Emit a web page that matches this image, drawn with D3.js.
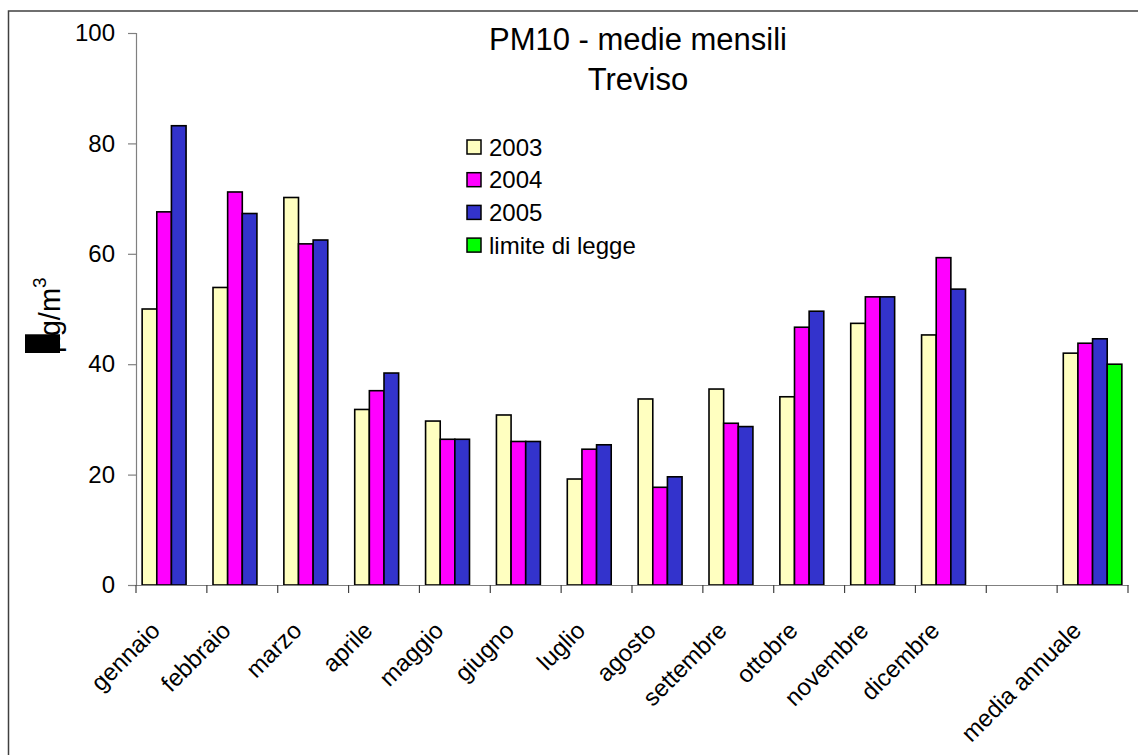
<!DOCTYPE html>
<html>
<head>
<meta charset="utf-8">
<script src="https://cdn.jsdelivr.net/npm/d3@7"></script>
<style>
  html, body { margin: 0; padding: 0; background: #fff; }
  svg { display: block; font-family: "Liberation Sans", Arial, sans-serif; }
</style>
</head>
<body>
<svg id="chart" width="1138" height="755"></svg>
<script>
// ---- data ----
const categories = ["gennaio","febbraio","marzo","aprile","maggio","giugno","luglio","agosto","settembre","ottobre","novembre","dicembre"," ","media annuale"];
const seriesNames = ["2003","2004","2005","limite di legge"];
const values2003 = [50.0, 53.9, 70.2, 31.8, 29.7, 30.8, 19.2, 33.7, 35.5, 34.1, 47.4, 45.3, null, 42.0];
const values2004 = [67.6, 71.2, 61.8, 35.2, 26.4, 26.0, 24.6, 17.7, 29.3, 46.7, 52.2, 59.3, null, 43.8];
const values2005 = [83.2, 67.3, 62.5, 38.4, 26.4, 26.0, 25.4, 19.6, 28.7, 49.6, 52.2, 53.6, null, 44.6];
const valuesLimite = [null, null, null, null, null, null, null, null, null, null, null, null, null, 40.0];
const yTicks = [0, 20, 40, 60, 80, 100];
const titleLines = ["PM10 - medie mensili", "Treviso"];
const colors = ["#FFFFC0", "#FF00FF", "#3333CC", "#00FF00"];

const allSeries = [values2003, values2004, values2005, valuesLimite];

(function draw() {
const svg = d3.select("#chart");

// outer frame
svg.append("rect").attr("x", 8.5).attr("y", 11).attr("width", 1300).attr("height", 800)
  .attr("fill", "none").attr("stroke", "#404040").attr("stroke-width", 1.5);

const pLeft = 136, pRight = 1128, pTop = 33, pBottom = 585;

const x0 = d3.scaleBand().domain(categories).range([pLeft, pRight]).padding(0);
const x1 = d3.scaleBand().domain(seriesNames).range([0, x0.bandwidth()]).paddingInner(0).paddingOuter(0.42);
const y = d3.scaleLinear().domain([0, 100]).range([pBottom, pTop]);

// bars
const barData = [];
categories.forEach((c, i) => {
  seriesNames.forEach((s, j) => {
    const v = allSeries[j][i];
    if (v !== null) barData.push({cat: c, series: s, value: v, color: colors[j]});
  });
});
svg.append("g").selectAll("rect").data(barData).join("rect")
  .attr("x", d => x0(d.cat) + x1(d.series))
  .attr("y", d => y(d.value))
  .attr("width", x1.bandwidth())
  .attr("height", d => y(0) - y(d.value))
  .attr("fill", d => d.color)
  .attr("stroke", "#000").attr("stroke-width", 1.6);

// y axis
const yAxis = svg.append("g").attr("transform", `translate(${pLeft},0)`)
  .call(d3.axisLeft(y).tickValues(yTicks).tickSize(8).tickPadding(13).tickFormat(d3.format("d")));
yAxis.select(".domain").attr("stroke", "#808080").attr("stroke-width", 1.2);
yAxis.selectAll(".tick line").attr("stroke", "#808080").attr("stroke-width", 1.2);
yAxis.selectAll(".tick text").attr("font-size", 24).attr("fill", "#000")
  .attr("font-family", "Liberation Sans, Arial, sans-serif");

// x axis
const xAxis = svg.append("g").attr("transform", `translate(0,${pBottom})`)
  .call(d3.axisBottom(x0).tickSize(0).tickFormat(""));
xAxis.select(".domain").attr("stroke", "#808080").attr("stroke-width", 1.2);
xAxis.selectAll(".tick").remove();
// tick marks at category boundaries
const boundaries = categories.map(c => x0(c)).concat([x0(categories[categories.length-1]) + x0.bandwidth()]);
svg.append("g").selectAll("line").data(boundaries).join("line")
  .attr("x1", d => d).attr("x2", d => d)
  .attr("y1", pBottom).attr("y2", pBottom + 8)
  .attr("stroke", "#404040").attr("stroke-width", 1.2);
// category labels
svg.append("g").selectAll("text").data(categories).join("text")
  .attr("transform", d => `translate(${x0(d) + x0.bandwidth()/2 - 10},${pBottom + 47}) rotate(-45)`)
  .attr("text-anchor", "end")
  .attr("font-size", 24)
  .attr("fill", "#000")
  .text(d => d.trim());

// title
svg.append("g").selectAll("text").data(titleLines).join("text")
  .attr("x", 638).attr("y", (d, i) => 50 + i * 40)
  .attr("text-anchor", "middle").attr("font-size", 31).attr("fill", "#000")
  .text(d => d);

// legend
const legend = svg.append("g");
seriesNames.forEach((s, i) => {
  const cy = 147 + i * 32.7;
  legend.append("rect").attr("x", 467).attr("y", cy - 7).attr("width", 14).attr("height", 14)
    .attr("fill", colors[i]).attr("stroke", "#000").attr("stroke-width", 1.5);
  legend.append("text").attr("x", 489).attr("y", cy + 8.5).attr("font-size", 24)
    .attr("fill", "#000").text(s);
});

// y axis title: µg/m³ (µ glyph shown as a black box in the original)
const yl = svg.append("g").attr("transform", "translate(60,353) rotate(-90)");
const ylBg = yl.append("g");
const ylText = yl.append("text").attr("text-anchor", "start").attr("font-size", 29).attr("fill", "#000");
ylText.append("tspan").text("µ");
ylText.append("tspan").text("g/m");
ylText.append("tspan").attr("font-size", 19).attr("dy", -14).text("3");
const ext = ylText.node().getExtentOfChar(0);
ylBg.append("rect").attr("x", ext.x).attr("y", -35).attr("width", ext.width + 2).attr("height", 35).attr("fill", "#000");
})();
</script>
</body>
</html>
